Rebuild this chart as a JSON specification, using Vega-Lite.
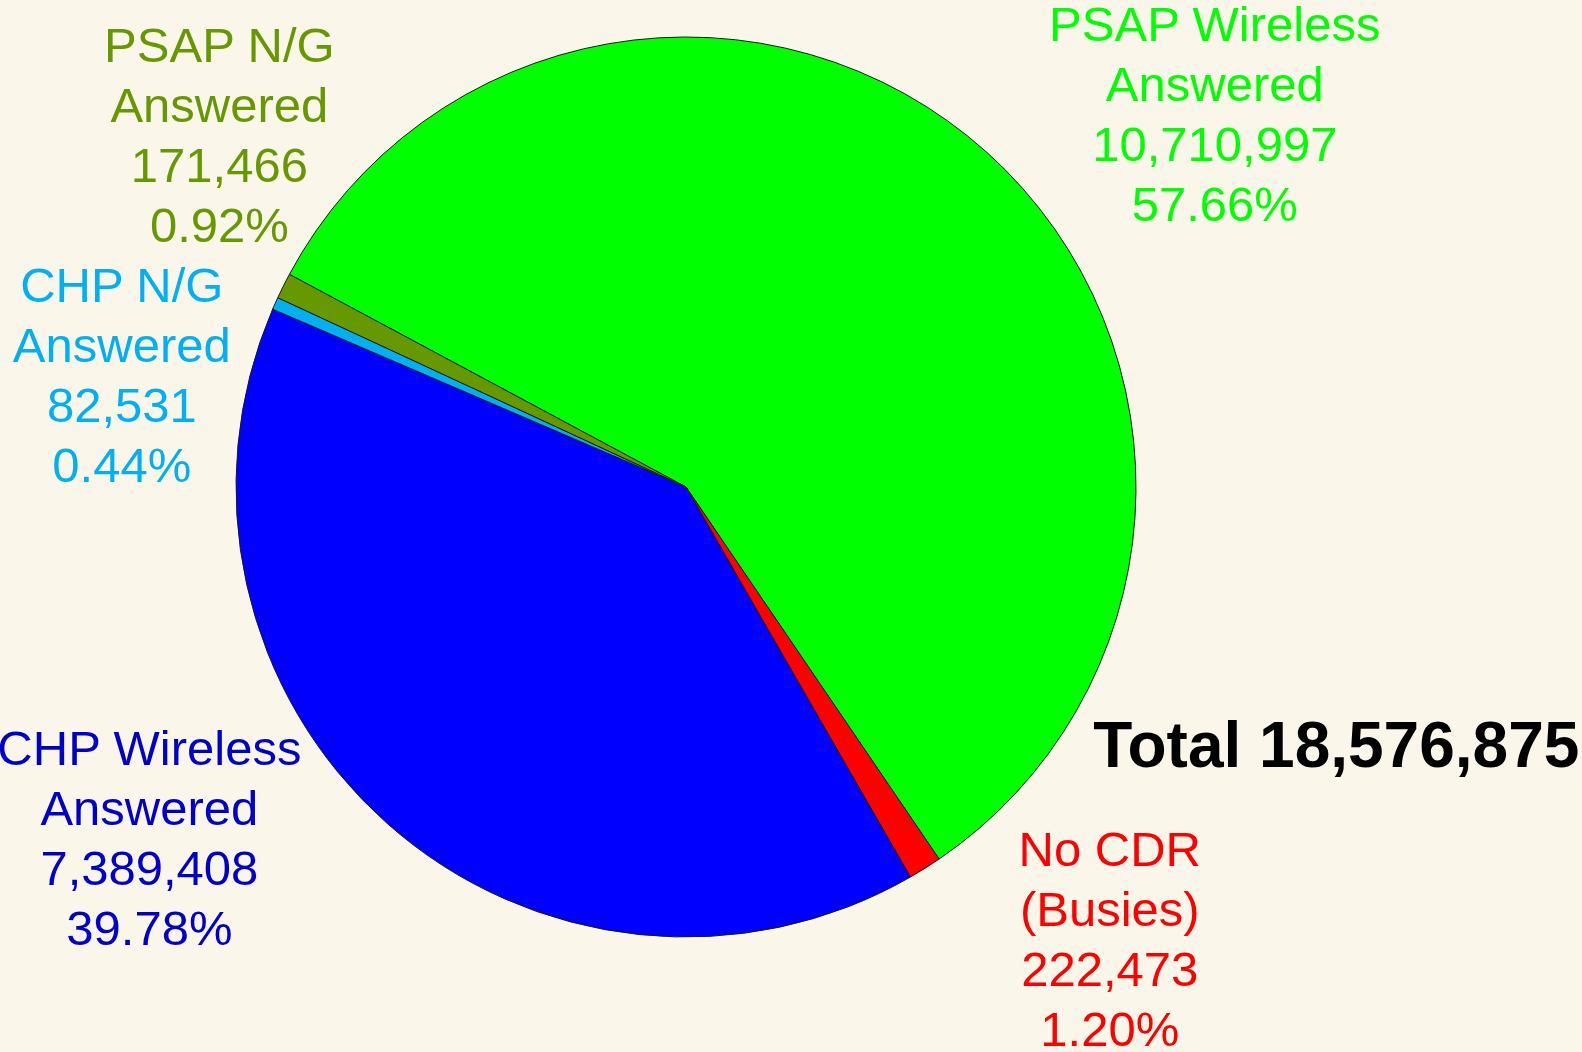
{
  "$schema": "https://vega.github.io/schema/vega-lite/v6.json",
  "width": 1372,
  "height": 974,
  "autosize": {"type": "none"},
  "padding": {"left": 0, "top": 0, "right": 210, "bottom": 78},
  "background": "#FAF6E9",
  "config": {"view": {"stroke": null}, "text": {"font": "Liberation Sans"}},
  "datasets": {
    "calls": [
      {"category": "PSAP Wireless", "value": 10710997, "label": "PSAP Wireless\nAnswered\n10,710,997\n57.66%"},
      {"category": "No CDR", "value": 222473, "label": "No CDR\n(Busies)\n222,473\n1.20%"},
      {"category": "CHP Wireless", "value": 7389408, "label": "CHP Wireless\nAnswered\n7,389,408\n39.78%"},
      {"category": "CHP N/G", "value": 82531, "label": "CHP N/G\nAnswered\n82,531\n0.44%"},
      {"category": "PSAP N/G", "value": 171466, "label": "PSAP N/G\nAnswered\n171,466\n0.92%"}
    ],
    "total": [{"label": "Total 18,576,875"}]
  },
  "layer": [
    {
      "data": {"name": "calls"},
      "transform": [{"stack": "value", "groupby": [], "as": ["v0", "v1"]}],
      "encoding": {
        "theta": {"field": "value", "type": "quantitative", "stack": true, "scale": {"range": [5.2046, 11.4878]}},
        "order": {"field": "v0", "type": "quantitative"}
      },
      "layer": [
        {
          "mark": {"type": "arc", "radius": 450, "stroke": "#1a1a1a", "strokeWidth": 1},
          "encoding": {
            "color": {
              "field": "category", "type": "nominal", "legend": null,
              "scale": {
                "domain": ["PSAP Wireless", "No CDR", "CHP Wireless", "CHP N/G", "PSAP N/G"],
                "range": ["#00FF00", "#FF0000", "#0000FF", "#00B0F0", "#669900"]
              }
            }
          }
        },
        {
          "mark": {"type": "text", "radius": 629, "dx": 108, "dy": 7, "fontSize": 49, "lineHeight": 60, "lineBreak": "\n", "align": "center", "baseline": "middle", "color": "#00FF00"},
          "encoding": {"text": {"condition": {"test": "datum.category === 'PSAP Wireless'", "field": "label", "type": "nominal"}, "value": ""}}
        },
        {
          "mark": {"type": "text", "radius": 604, "dx": 103, "dy": -148, "fontSize": 49, "lineHeight": 60, "lineBreak": "\n", "align": "center", "baseline": "middle", "color": "#FF0000"},
          "encoding": {"text": {"condition": {"test": "datum.category === 'No CDR'", "field": "label", "type": "nominal"}, "value": ""}}
        },
        {
          "mark": {"type": "text", "radius": 622, "dx": -123, "dy": -202, "fontSize": 49, "lineHeight": 60, "lineBreak": "\n", "align": "center", "baseline": "middle", "color": "#0000CC"},
          "encoding": {"text": {"condition": {"test": "datum.category === 'CHP Wireless'", "field": "label", "type": "nominal"}, "value": ""}}
        },
        {
          "mark": {"type": "text", "radius": 561, "dx": -52, "dy": 29, "fontSize": 49, "lineHeight": 60, "lineBreak": "\n", "align": "center", "baseline": "middle", "color": "#00B0F0"},
          "encoding": {"text": {"condition": {"test": "datum.category === 'CHP N/G'", "field": "label", "type": "nominal"}, "value": ""}}
        },
        {
          "mark": {"type": "text", "radius": 573, "dx": 46, "dy": -184, "fontSize": 49, "lineHeight": 60, "lineBreak": "\n", "align": "center", "baseline": "middle", "color": "#669900"},
          "encoding": {"text": {"condition": {"test": "datum.category === 'PSAP N/G'", "field": "label", "type": "nominal"}, "value": ""}}
        }
      ]
    },
    {
      "data": {"name": "total"},
      "mark": {"type": "text", "theta": 1.9775, "radius": 708, "fontSize": 64, "fontWeight": "bold", "align": "center", "baseline": "alphabetic", "color": "#000000"},
      "encoding": {"text": {"field": "label", "type": "nominal"}}
    }
  ]
}
